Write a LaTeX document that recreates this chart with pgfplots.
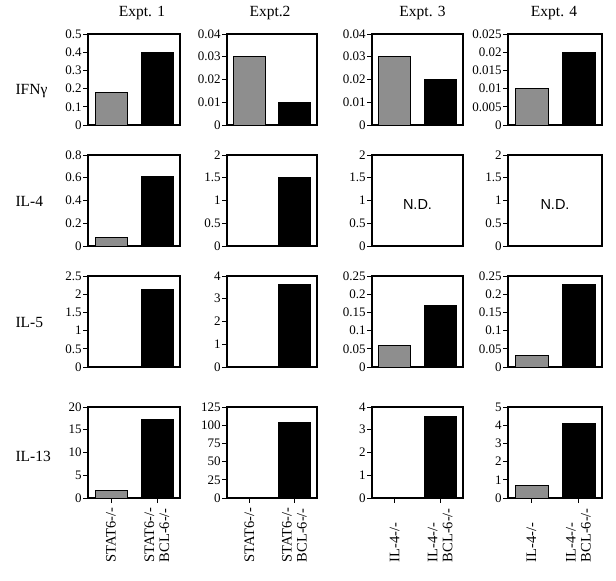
\documentclass[border=0pt]{standalone}
\usepackage{pgfplots}
\pgfplotsset{compat=1.18}
\usepackage{fontspec}
\setmainfont{Liberation Serif}
\newfontfamily\sansf{Liberation Sans}
\definecolor{stip}{RGB}{142,142,142}
\pgfplotsset{
  panel/.style={
    scale only axis, height=91pt,
    xmin=-0.5, xmax=1.5, ymin=0,
    axis line style={line width=1.2pt},
    tick style={line width=0.9pt, black},
    major tick length=5pt,
    tick align=outside,
    ytick pos=left,
    xtick=\empty,
    yticklabel style={font=\fontsize{13}{13}\selectfont, inner sep=1.2pt},
    /pgf/number format/assume math mode=true,
    /pgf/number format/fixed, /pgf/number format/precision=3,
    scaled y ticks=false,
    title style={font=\fontsize{15.5}{16}\selectfont, at={(0.5,1)}, anchor=base, yshift=11pt},
    anchor=north west,
  },
  bottomrow/.style={
    xtick={0,1}, xtick pos=bottom,
    xticklabel style={rotate=90, anchor=east, align=left, text width=57pt,
      font=\fontsize{14.5}{15}\selectfont, inner sep=2pt},
  },
  gbar/.style={ybar, bar width=0.7, bar shift=0pt, fill=stip, draw=black, line width=0.7pt},
  kbar/.style={ybar, bar width=0.7, bar shift=0pt, fill=black, draw=black, line width=0.7pt},
}
\begin{document}
\begin{tikzpicture}
\useasboundingbox (0,0) rectangle (616pt,581pt);
% Row labels
\node[anchor=base west, font=\fontsize{15.5}{15}\selectfont] at (12pt,486pt) {IFNγ};
\node[anchor=base west, font=\fontsize{15.5}{15}\selectfont] at (12pt,374pt) {IL-4};
\node[anchor=base west, font=\fontsize{15.5}{15}\selectfont] at (12pt,253pt) {IL-5};
\node[anchor=base west, font=\fontsize{15.5}{15}\selectfont] at (12pt,119pt) {IL-13};

% ===== Row 1: IFN gamma =====
\begin{axis}[panel, at={(88pt,547pt)}, width=92pt, ymax=0.5, ytick={0,0.1,0.2,0.3,0.4,0.5},
  title={Expt. 1}, title style={xshift=8pt}]
\addplot[gbar] coordinates {(0,0.18)};
\addplot[kbar] coordinates {(1,0.40)};
\end{axis}
\begin{axis}[panel, at={(227pt,547pt)}, width=90pt, ymax=0.04, ytick={0,0.01,0.02,0.03,0.04},
  title={Expt.2}, title style={xshift=-2pt}]
\addplot[gbar] coordinates {(0,0.03)};
\addplot[kbar] coordinates {(1,0.01)};
\end{axis}
\begin{axis}[panel, at={(372pt,547pt)}, width=91pt, ymax=0.04, ytick={0,0.01,0.02,0.03,0.04},
  title={Expt. 3}, title style={xshift=5pt}]
\addplot[gbar] coordinates {(0,0.03)};
\addplot[kbar] coordinates {(1,0.02)};
\end{axis}
\begin{axis}[panel, at={(508pt,547pt)}, width=94pt, ymax=0.025, ytick={0,0.005,0.01,0.015,0.02,0.025},
  title={Expt. 4}, title style={xshift=-1pt}]
\addplot[gbar] coordinates {(0,0.01)};
\addplot[kbar] coordinates {(1,0.02)};
\end{axis}

% ===== Row 2: IL-4 =====
\begin{axis}[panel, at={(88pt,426pt)}, width=92pt, ymax=0.8, ytick={0,0.2,0.4,0.6,0.8}]
\addplot[gbar] coordinates {(0,0.08)};
\addplot[kbar] coordinates {(1,0.61)};
\end{axis}
\begin{axis}[panel, at={(227pt,426pt)}, width=90pt, ymax=2, ytick={0,0.5,1,1.5,2}]
\addplot[gbar] coordinates {(0,0.02)};
\addplot[kbar] coordinates {(1,1.5)};
\end{axis}
\begin{axis}[panel, at={(372pt,426pt)}, width=91pt, ymax=2, ytick={0,0.5,1,1.5,2}]
\node[font=\sansf\fontsize{14.5}{14}\selectfont] at (axis cs:0.5,0.92) {N.D.};
\end{axis}
\begin{axis}[panel, at={(508pt,426pt)}, width=94pt, ymax=2, ytick={0,0.5,1,1.5,2}]
\node[font=\sansf\fontsize{14.5}{14}\selectfont] at (axis cs:0.5,0.92) {N.D.};
\end{axis}

% ===== Row 3: IL-5 =====
\begin{axis}[panel, at={(88pt,305pt)}, width=92pt, ymax=2.5, ytick={0,0.5,1,1.5,2,2.5}]
\addplot[kbar] coordinates {(1,2.12)};
\end{axis}
\begin{axis}[panel, at={(227pt,305pt)}, width=90pt, ymax=4, ytick={0,1,2,3,4}]
\addplot[kbar] coordinates {(1,3.62)};
\end{axis}
\begin{axis}[panel, at={(372pt,305pt)}, width=91pt, ymax=0.25, ytick={0,0.05,0.1,0.15,0.2,0.25}]
\addplot[gbar] coordinates {(0,0.06)};
\addplot[kbar] coordinates {(1,0.17)};
\end{axis}
\begin{axis}[panel, at={(508pt,305pt)}, width=94pt, ymax=0.25, ytick={0,0.05,0.1,0.15,0.2,0.25}]
\addplot[gbar] coordinates {(0,0.032)};
\addplot[kbar] coordinates {(1,0.228)};
\end{axis}

% ===== Row 4: IL-13 =====
\begin{axis}[panel, bottomrow, at={(88pt,174pt)}, width=92pt, ymax=20, ytick={0,5,10,15,20},
  xticklabels={STAT6-/-, {STAT6-/-\\BCL-6-/-}}]
\addplot[gbar] coordinates {(0,1.7)};
\addplot[kbar] coordinates {(1,17.3)};
\end{axis}
\begin{axis}[panel, bottomrow, at={(227pt,174pt)}, width=90pt, ymax=125, ytick={0,25,50,75,100,125},
  xticklabels={STAT6-/-, {STAT6-/-\\BCL-6-/-}}]
\addplot[kbar] coordinates {(1,104)};
\end{axis}
\begin{axis}[panel, bottomrow, at={(372pt,174pt)}, width=91pt, ymax=4, ytick={0,1,2,3,4},
  xticklabels={IL-4-/-, {IL-4-/-\\BCL-6-/-}}]
\addplot[gbar] coordinates {(0,0.05)};
\addplot[kbar] coordinates {(1,3.6)};
\end{axis}
\begin{axis}[panel, bottomrow, at={(508pt,174pt)}, width=94pt, ymax=5, ytick={0,1,2,3,4,5},
  xticklabels={IL-4-/-, {IL-4-/-\\BCL-6-/-}}]
\addplot[gbar] coordinates {(0,0.7)};
\addplot[kbar] coordinates {(1,4.1)};
\end{axis}
\end{tikzpicture}
\end{document}
